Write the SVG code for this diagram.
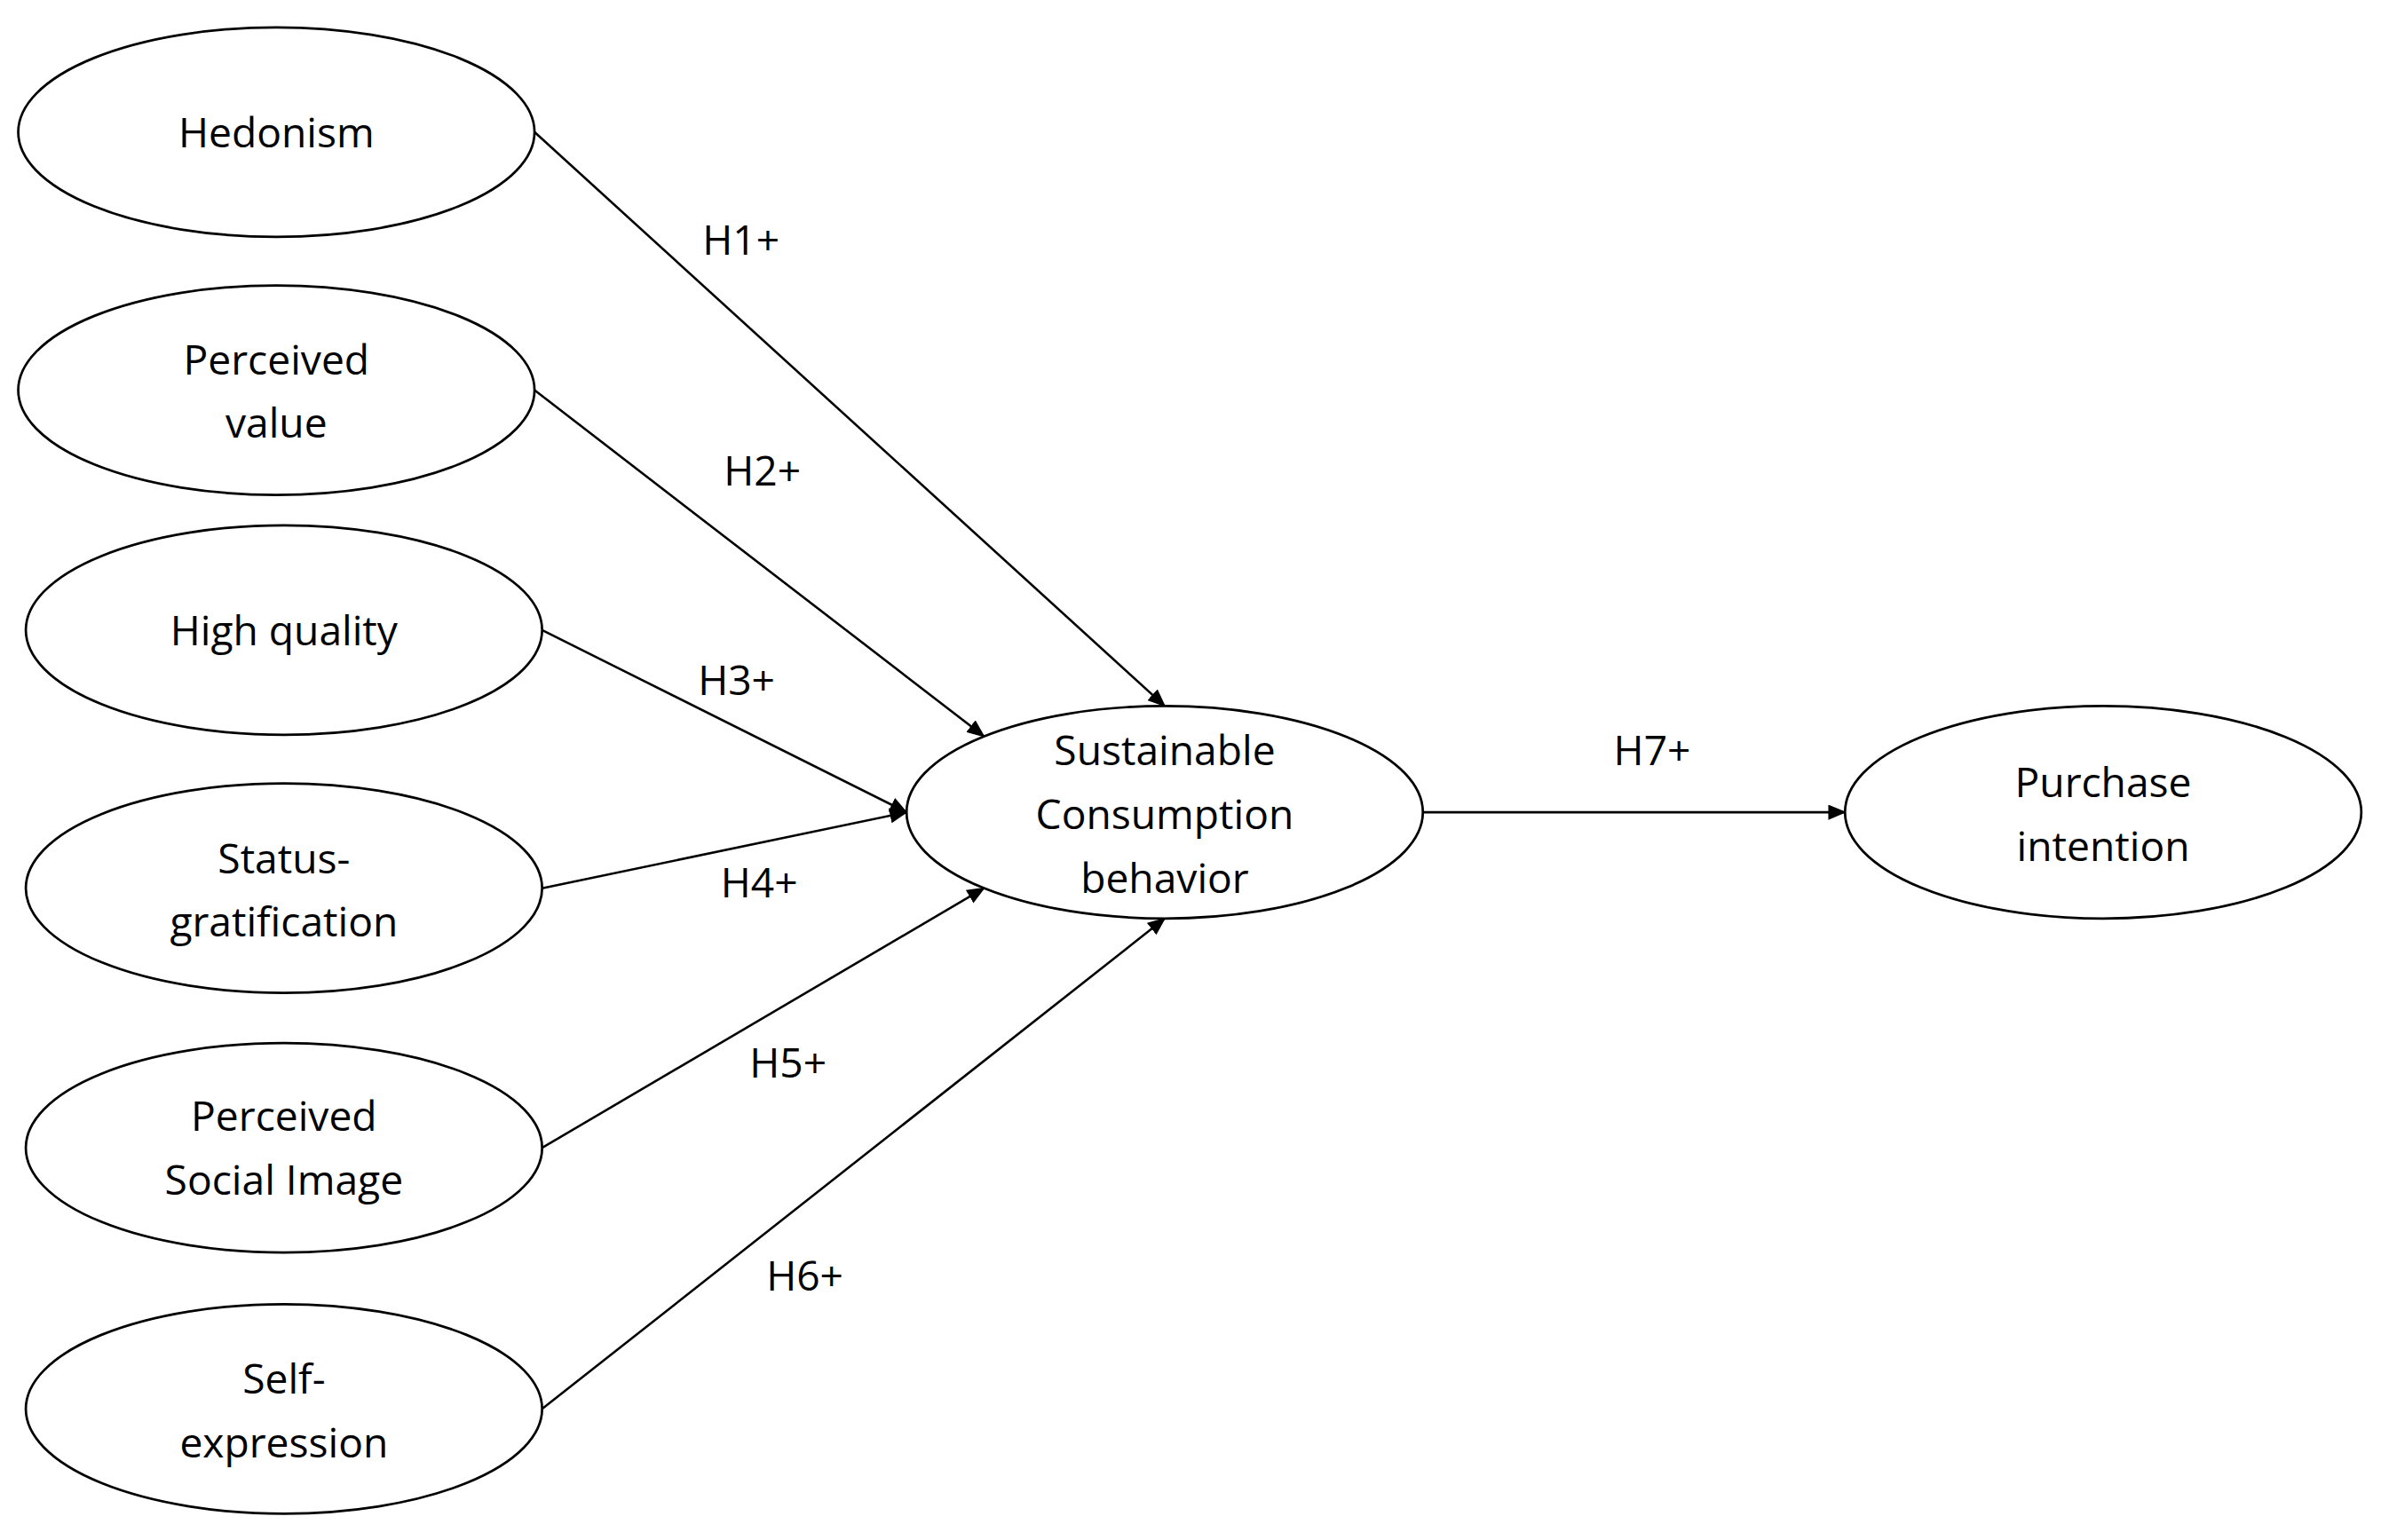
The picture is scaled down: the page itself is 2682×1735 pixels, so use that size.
<svg xmlns="http://www.w3.org/2000/svg" width="2682" height="1735" viewBox="0 0 2682 1735">
<defs>
<style>
ellipse{fill:#fff;stroke:#000;stroke-width:1.6}
line{stroke:#000;stroke-width:1.5}
text{font-family:"Open Sans","Liberation Sans",sans-serif;font-size:27px;fill:#000;text-anchor:middle}
</style>
<marker id="a" markerWidth="12" markerHeight="10" refX="11" refY="5" orient="auto" markerUnits="userSpaceOnUse">
<path d="M0,0 L12,5 L0,10 Z" fill="#000"/>
</marker>
</defs>
<rect width="2682" height="1735" fill="#fff"/>
<g transform="scale(1.7105)">
<g id="connectors">
<line x1="352" y1="87" x2="767" y2="465" marker-end="url(#a)"/>
<line x1="352" y1="257" x2="648" y2="485" marker-end="url(#a)"/>
<line x1="357" y1="415" x2="597" y2="535" marker-end="url(#a)"/>
<line x1="357" y1="585" x2="597" y2="535" marker-end="url(#a)"/>
<line x1="357" y1="756" x2="648" y2="585" marker-end="url(#a)"/>
<line x1="357" y1="928" x2="767" y2="605" marker-end="url(#a)"/>
<line x1="937" y1="535" x2="1215" y2="535" marker-end="url(#a)"/>
<text x="488" y="168">H1+</text>
<text x="502" y="320">H2+</text>
<text x="485" y="458">H3+</text>
<text x="500" y="591">H4+</text>
<text x="519" y="710">H5+</text>
<text x="530" y="850">H6+</text>
<text x="1088" y="504">H7+</text>
</g>
<g id="hedonism"><ellipse cx="182" cy="87" rx="170" ry="69"/><text x="182" y="97">Hedonism</text></g>
<g id="perceived-value"><ellipse cx="182" cy="257" rx="170" ry="69"/><text x="182" y="247">Perceived</text><text x="182" y="288">value</text></g>
<g id="high-quality"><ellipse cx="187" cy="415" rx="170" ry="69"/><text x="187" y="425">High quality</text></g>
<g id="status"><ellipse cx="187" cy="585" rx="170" ry="69"/><text x="187" y="575">Status-</text><text x="187" y="617">gratification</text></g>
<g id="social-image"><ellipse cx="187" cy="756" rx="170" ry="69"/><text x="187" y="745">Perceived</text><text x="187" y="787">Social Image</text></g>
<g id="self-expression"><ellipse cx="187" cy="928" rx="170" ry="69"/><text x="187" y="918">Self-</text><text x="187" y="960">expression</text></g>
<g id="scb"><ellipse cx="767" cy="535" rx="170" ry="70"/><text x="767" y="504">Sustainable</text><text x="767" y="546">Consumption</text><text x="767" y="588">behavior</text></g>
<g id="purchase"><ellipse cx="1385" cy="535" rx="170" ry="70"/><text x="1385" y="525">Purchase</text><text x="1385" y="567">intention</text></g>
</g>
</svg>
